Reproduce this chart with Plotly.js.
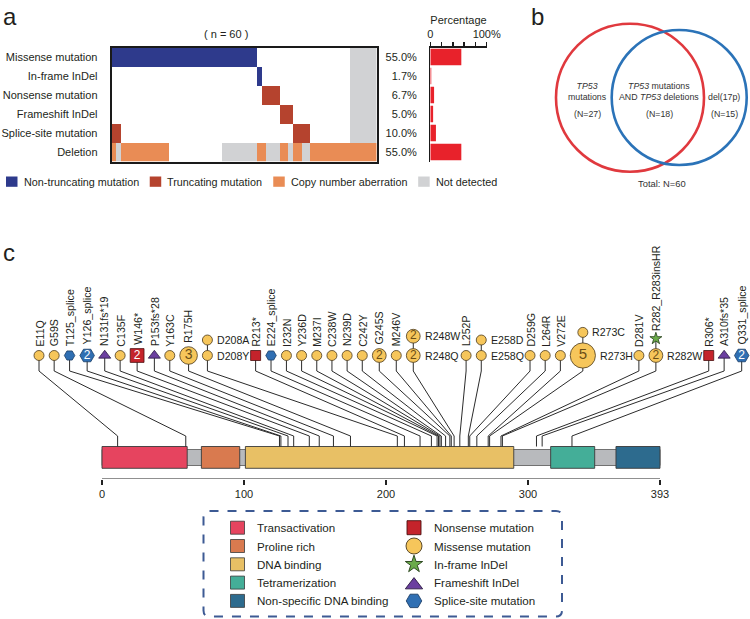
<!DOCTYPE html>
<html><head><meta charset="utf-8">
<script src="https://cdn.plot.ly/plotly-3.0.1.min.js"></script>
<style>html,body{margin:0;padding:0;background:#fff}#chart{width:750px;height:619px}</style>
</head><body><div id="chart"></div>
<script>
// ================= DATA =================
// Panel a: oncoprint (60 samples). Status codes: 0 none, 1 non-truncating, 2 truncating, 3 copy number aberration, 4 not detected
const oncoRows = ['Missense mutation','In-frame InDel','Nonsense mutation','Frameshift InDel','Splice-site mutation','Deletion'];
const oncoPct = [55.0, 1.7, 6.7, 5.0, 10.0, 55.0];
const sampleN = 60;
const runsMissense   = [[1,33],[0,21],[4,6]];
const runsInframe    = [[0,33],[1,1],[0,20],[4,6]];
const runsNonsense   = [[0,34],[2,4],[0,16],[4,6]];
const runsFrameshift = [[0,38],[2,3],[0,13],[4,6]];
const runsSplice     = [[2,2],[0,39],[2,4],[0,9],[4,6]];
const runsDeletion   = [[3,1],[4,1],[3,11],[0,12],[4,8],[3,2],[4,3],[3,2],[4,1],[3,2],[4,2],[3,15]];
const statusLabels = ['Non-truncating mutation','Truncating mutation','Copy number aberration','Not detected'];
const pctTicks = [0,20,40,60,80,100];

// Panel b: Venn
const vennText = ['<i>TP53</i><br>mutations', '<i>TP53</i> mutations<br>AND <i>TP53</i> deletions', 'del(17p)'];
const vennCounts = [27, 18, 15];
const vennTotal = 60;

// Panel c: TP53 lollipop
const proteinLength = 393;
const domainNames = ['Transactivation','Proline rich','DNA binding','Tetramerization','Non-specific DNA binding'];
const domainStart = [0, 70, 101, 316, 362];
const domainEnd   = [60, 97, 290, 347, 393];
const protTicks = [0, 100, 200, 300, 393];
const mutTypeNames = ['Nonsense mutation','Missense mutation','In-frame InDel','Frameshift InDel','Splice-site mutation'];
const mutLabel = ['E11Q','G59S','T125_splice','Y126_splice','N131fs*19','C135F','W146*','P153fs*28','Y163C','R175H',
  'D208Y','D208A','R213*','E224_splice','I232N','Y236D','M237I','C238W','N239D','C242Y','G245S','M246V',
  'R248Q','R248W','L252P','E258Q','E258D','D259G','L264R','V272E','R273H','R273C','D281V','R282W','R282_R283insHR',
  'R306*','A310fs*35','Q331_splice'];
const mutPos = [11,59,125,126,131,135,146,153,163,175,208,208,213,224,232,236,237,238,239,242,245,246,
  248,248,252,258,258,259,264,272,273,273,281,282,282,306,310,331];
const mutCount = [1,1,1,2,1,1,2,1,1,3,1,1,1,1,1,1,1,1,1,1,2,1,2,2,1,1,1,1,1,1,5,1,1,2,1,1,1,2];
const mutType  = [1,1,4,4,3,1,0,3,1,1,1,1,0,4,1,1,1,1,1,1,1,1,1,1,1,1,1,1,1,1,1,1,1,1,2,0,3,4];

// ================= STYLE / LAYOUT HELPERS =================
const W = 750, H = 619;
const FONT = '"Liberation Sans", Arial, Helvetica, sans-serif';
const TXT = '#231f20';
const statusColors = ['#ffffff','#2e3a8c','#b5432e','#e98c55','#d1d2d4'];
const domainColors = ['#e6445f','#d97a4f','#e8c065','#44ae98','#2d6b8e'];
const typeSymbols = ['square','circle','star','triangle-up','hexagon2'];
const typeFill = ['#c4232b','#f6c65b','#6bab4a','#6b3fa0','#2f6fb3'];
const typeLine = ['#4a1010','#4a3a1e','#223d16','#2a1a40','#1b3d66'];
const typeTextColor = ['#ffffff','#6b4e16','#ffffff','#ffffff','#ffffff'];
const LAB = 10.6;   // mutation label font size

const cv = document.createElement('canvas').getContext('2d');
function tw(t, size){ cv.font = size + 'px "Liberation Sans", Arial, sans-serif'; return cv.measureText(t).width; }
const py = p => 1 - p / H;           // pixel row -> paper y
const px = p => p / W;               // pixel col -> paper x

const shapes = [];
const annotations = [];
const traces = [];
function ann(o){ annotations.push(Object.assign({showarrow:false, xref:'x4', yref:'y4', font:{family:FONT, size:11, color:TXT}}, o)); }

// ================= PANEL a =================
const runsAll = [runsMissense, runsInframe, runsNonsense, runsFrameshift, runsSplice, runsDeletion];
const z = runsAll.map(r => r.flatMap(([c, n]) => Array(n).fill(c)));
const cs = [];
statusColors.forEach((c, k) => { const a = Math.max(0, (k - 0.5) / 4), b = Math.min(1, (k + 0.5) / 4); cs.push([a, c]); cs.push([b, c]); });
const rowIdx = oncoRows.map((_, i) => i);
traces.push({type:'heatmap', z: z, x: Array.from({length: sampleN}, (_, i) => i), y: rowIdx,
  xaxis:'x', yaxis:'y', colorscale: cs, zmin:0, zmax:4, showscale:false, hoverinfo:'skip'});
traces.push({type:'bar', orientation:'h', x: oncoPct, y: rowIdx, xaxis:'x2', yaxis:'y2',
  marker:{color:'#e8222b'}, width:0.88, hoverinfo:'skip'});

ann({x:226, y:34, text:'( n = ' + sampleN + ' )', font:{family:FONT, size:11, color:TXT}});
ann({x:1, y:16, xanchor:'left', text:'a', font:{family:FONT, size:24, color:TXT}});
// legend of panel a
let lx = 6;
statusLabels.forEach((lab, i) => {
  shapes.push({type:'rect', xref:'x4', yref:'y4', x0:lx, x1:lx + 11.5, y0:176.5, y1:186.8, fillcolor:statusColors[i + 1], line:{width:0}});
  const tx = lx + 11.5 + 4;
  ann({x:tx, y:182, xanchor:'left', text:lab, font:{family:FONT, size:10.8, color:TXT}});
  lx = tx + tw(lab, 10.8) + 13;
});

// ================= PANEL b =================
ann({x:529, y:16, xanchor:'left', text:'b', font:{family:FONT, size:24, color:TXT}});
const vennCircles = [{cx:630, cy:97.7, r:74, color:'#e0393e'}, {cx:679.2, cy:97.5, r:67.5, color:'#2b73b8'}];
vennCircles.forEach(c => shapes.push({type:'circle', xref:'x4', yref:'y4', x0:c.cx - c.r, x1:c.cx + c.r, y0:c.cy - c.r, y1:c.cy + c.r,
  line:{color:c.color, width:2.6}, fillcolor:'rgba(0,0,0,0)'}));
const vennX = [587, 659, 724];
vennText.forEach((t, i) => {
  const lines = t.split('<br>').length;
  ann({x:vennX[i], y: lines === 2 ? 91.5 : 97, text:t, font:{family:FONT, size:8.8, color:'#333'}});
  ann({x:vennX[i], y:113.5, text:'(N=' + vennCounts[i] + ')', font:{family:FONT, size:8.8, color:'#333'}});
});
ann({x:662, y:183, text:'Total: N=' + vennTotal, font:{family:FONT, size:9.4, color:'#333'}});

// ================= PANEL c =================
ann({x:1, y:252, xanchor:'left', text:'c', font:{family:FONT, size:24, color:TXT}});
const X0 = 102, S = (660 - 102) / proteinLength;  // px per residue
const toAA = p => (p - X0) / S;
const yBot = 355.5, yStub = 371, yKink = 436, yDomTop = 446.5, yDomBot = 468.3, yAxis = 479;

function mSize(t, n){
  if (t === 2) return 9;
  if (t === 3) return 10.5;
  if (t === 4) return 10.5 + 4 * (n - 1);
  return 10 + 3.8 * (n - 1);
}
// group by residue
const groups = [];
mutPos.forEach((p, i) => { let g = groups.find(g => g.pos === p); if (g) g.items.push(i); else groups.push({pos:p, items:[i]}); });
groups.forEach(g => {
  g.b = g.items[0]; g.t = g.items.length > 1 ? g.items[1] : null;
  g.sb = mSize(mutType[g.b], mutCount[g.b]);
  g.st = g.t !== null ? mSize(mutType[g.t], mutCount[g.t]) : 0;
  g.rightB = g.t !== null;
  g.rightT = g.t !== null && mutType[g.t] === mutType[g.b];
  let ex = 0;
  if (g.rightB) ex = Math.max(ex, tw(mutLabel[g.b], LAB));
  if (g.rightT) ex = Math.max(ex, tw(mutLabel[g.t], LAB));
  g.extra = ex > 0 ? ex + 2 : 0;
});
// spread markers horizontally between the first and last slot
const rawX = [0];
for (let k = 1; k < groups.length; k++) {
  const a = groups[k - 1], b = groups[k];
  rawX.push(rawX[k - 1] + 5.8 + (a.sb + b.sb) / 2 + a.extra);
}
const left = 39, right = 741.7, sc = (right - left) / rawX[rawX.length - 1];
groups.forEach((g, k) => { g.mx = left + rawX[k] * sc; g.yt = yBot - (g.sb / 2 + g.st / 2 + 5.5); });

// connector lines
const lnX = [], lnY = [];
groups.forEach(g => {
  lnX.push(toAA(g.mx), toAA(g.mx), g.pos, g.pos, null);
  lnY.push(yBot, yStub, yKink, yDomTop, null);
  if (g.t !== null) { lnX.push(toAA(g.mx), toAA(g.mx), null); lnY.push(g.yt, yBot, null); }
});
traces.push({type:'scatter', mode:'lines', x:lnX, y:lnY, xaxis:'x3', yaxis:'y3', line:{color:'#2b2b2b', width:1}, hoverinfo:'skip', cliponaxis:false});

// markers, one trace per mutation type
mutTypeNames.forEach((nm, t) => {
  const xs = [], ys = [], ss = [], txt = [], fs = [];
  groups.forEach(g => {
    [[g.b, yBot, g.sb], [g.t, g.yt, g.st]].forEach(([i, yy, s]) => {
      if (i === null || mutType[i] !== t) return;
      xs.push(toAA(g.mx)); ys.push(yy); ss.push(s);
      txt.push(mutCount[i] > 1 ? String(mutCount[i]) : '');
      fs.push(mutCount[i] >= 5 ? 15 : (mutCount[i] >= 3 ? 14 : 12));
    });
  });
  if (!xs.length) return;
  traces.push({type:'scatter', mode:'markers+text', x:xs, y:ys, xaxis:'x3', yaxis:'y3', cliponaxis:false,
    marker:{symbol:typeSymbols[t], size:ss, color:typeFill[t], line:{color:typeLine[t], width:0.8}, opacity:1},
    text:txt, textposition:'middle center', textfont:{family:FONT, size:fs, color:typeTextColor[t]}, hoverinfo:'skip'});
});

// mutation labels
function cAnn(o){ annotations.push(Object.assign({showarrow:false, xref:'x3', yref:'y3', font:{family:FONT, size:LAB, color:TXT}}, o)); }
groups.forEach(g => {
  if (g.rightB) cAnn({x:toAA(g.mx + g.sb / 2 + 2.5), y:yBot, xanchor:'left', yanchor:'middle', text:mutLabel[g.b]});
  else cAnn({x:toAA(g.mx), y:yBot - g.sb / 2 - 2, xanchor:'center', yanchor:'bottom', textangle:-90, text:mutLabel[g.b]});
  if (g.t !== null) {
    if (g.rightT) cAnn({x:toAA(g.mx + g.st / 2 + 2.5), y:g.yt, xanchor:'left', yanchor:'middle', text:mutLabel[g.t]});
    else cAnn({x:toAA(g.mx), y:g.yt - g.st / 2 - 1, xanchor:'center', yanchor:'bottom', textangle:-90, text:mutLabel[g.t]});
  }
});

// protein backbone and domains
shapes.push({type:'rect', xref:'x3', yref:'y3', x0:0, x1:proteinLength, y0:449.5, y1:465.5, fillcolor:'#b8babd', line:{color:'#555', width:0.8}, layer:'below'});
domainNames.forEach((d, i) => shapes.push({type:'rect', xref:'x3', yref:'y3', x0:domainStart[i], x1:domainEnd[i], y0:yDomTop, y1:yDomBot,
  fillcolor:domainColors[i], line:{color:'#3a3a3a', width:0.9}, layer:'below'}));
shapes.push({type:'line', xref:'x3', yref:'y3', x0:0, x1:proteinLength, y0:yAxis, y1:yAxis, line:{color:'#222', width:1.2}});

// legend of panel c
const lgRows = [527.7, 546, 564.3, 582.6, 600.9];
shapes.push({type:'path', xref:'x4', yref:'y4', path:(() => { const x0 = 203.5, x1 = 562, y0 = 511, y1 = 616.5, r = 6;
  return `M${x0 + r},${y0} H${x1 - r} Q${x1},${y0} ${x1},${y0 + r} V${y1 - r} Q${x1},${y1} ${x1 - r},${y1} H${x0 + r} Q${x0},${y1} ${x0},${y1 - r} V${y0 + r} Q${x0},${y0} ${x0 + r},${y0} Z`; })(),
  line:{color:'#3d5a94', width:2, dash:'dash'}, fillcolor:'rgba(0,0,0,0)'});
domainNames.forEach((d, i) => {
  shapes.push({type:'rect', xref:'x4', yref:'y4', x0:230.5, x1:244.5, y0:lgRows[i] - 6.5, y1:lgRows[i] + 6.5, fillcolor:domainColors[i], line:{color:'#3a3a3a', width:0.8}});
  ann({x:255, y:lgRows[i], xanchor:'left', text:d, font:{family:FONT, size:11.6, color:TXT}});
});
const lgSizes = [14, 16, 13, 15, 15.5];
traces.push({type:'scatter', mode:'markers', xaxis:'x4', yaxis:'y4', cliponaxis:false, hoverinfo:'skip',
  x: mutTypeNames.map(() => 414), y: mutTypeNames.map((_, i) => lgRows[i] + (typeSymbols[i] === 'triangle-up' ? 2.5 : 0)),
  marker:{symbol:typeSymbols, size:lgSizes, color:typeFill, opacity:1, line:{color:typeLine, width:0.9}}});
mutTypeNames.forEach((m, i) => ann({x:431.5, y:lgRows[i], xanchor:'left', text:m, font:{family:FONT, size:11.6, color:TXT}}));

// ================= LAYOUT =================
const hmY = [py(161.5), py(47.5)];
const noGrid = {showgrid:false, zeroline:false};
const layout = {
  width:W, height:H, autosize:false, margin:{l:0, r:0, t:0, b:0},
  paper_bgcolor:'#ffffff', plot_bgcolor:'rgba(0,0,0,0)', showlegend:false,
  font:{family:FONT, size:11, color:TXT},
  xaxis:Object.assign({domain:[px(111.7), px(376.7)], range:[-0.5, sampleN - 0.5], anchor:'y', showticklabels:false, ticks:'',
    showline:true, mirror:true, linewidth:2, linecolor:'#1a1a1a'}, noGrid),
  yaxis:Object.assign({domain:hmY, range:[oncoRows.length - 0.5, -0.5], anchor:'x', tickvals:rowIdx, ticktext:oncoRows, ticks:'',
    ticklabelstandoff:10, tickfont:{family:FONT, size:11, color:TXT}, showline:true, mirror:true, linewidth:2, linecolor:'#1a1a1a'}, noGrid),
  xaxis2:Object.assign({domain:[px(430.3), px(486.7)], range:[0, 100], anchor:'y2', side:'top', tickvals:pctTicks,
    ticktext:pctTicks.map((v, i) => i === 0 ? '0' : (i === pctTicks.length - 1 ? v + '%' : '')),
    ticks:'outside', ticklen:4, tickwidth:1.3, tickcolor:'#1a1a1a', showline:true, linewidth:1.3, linecolor:'#1a1a1a',
    tickfont:{family:FONT, size:11, color:TXT}, title:{text:'Percentage', font:{family:FONT, size:11, color:TXT}, standoff:1}}, noGrid),
  yaxis2:Object.assign({domain:hmY, range:[oncoRows.length - 0.5, -0.5], anchor:'x2', tickvals:rowIdx,
    ticktext:oncoPct.map(v => v.toFixed(1) + '%'), ticks:'', ticklabelstandoff:10, tickfont:{family:FONT, size:11, color:TXT},
    showline:true, linewidth:1.3, linecolor:'#1a1a1a'}, noGrid),
  xaxis3:Object.assign({domain:[0, 1], range:[toAA(0), toAA(W)], anchor:'y3', tickvals:protTicks, ticks:'outside', ticklen:5,
    tickwidth:1.2, tickcolor:'#222', showline:false, tickfont:{family:FONT, size:11, color:TXT}}, noGrid),
  yaxis3:Object.assign({domain:[py(yAxis), py(250)], range:[yAxis, 250], anchor:'x3', visible:false}, noGrid),
  xaxis4:Object.assign({domain:[0, 1], range:[0, W], anchor:'y4', visible:false}, noGrid),
  yaxis4:Object.assign({domain:[0, 1], range:[H, 0], anchor:'x4', visible:false}, noGrid),
  shapes:shapes, annotations:annotations
};
Plotly.newPlot('chart', traces, layout, {staticPlot:true, displayModeBar:false});
</script></body></html>
